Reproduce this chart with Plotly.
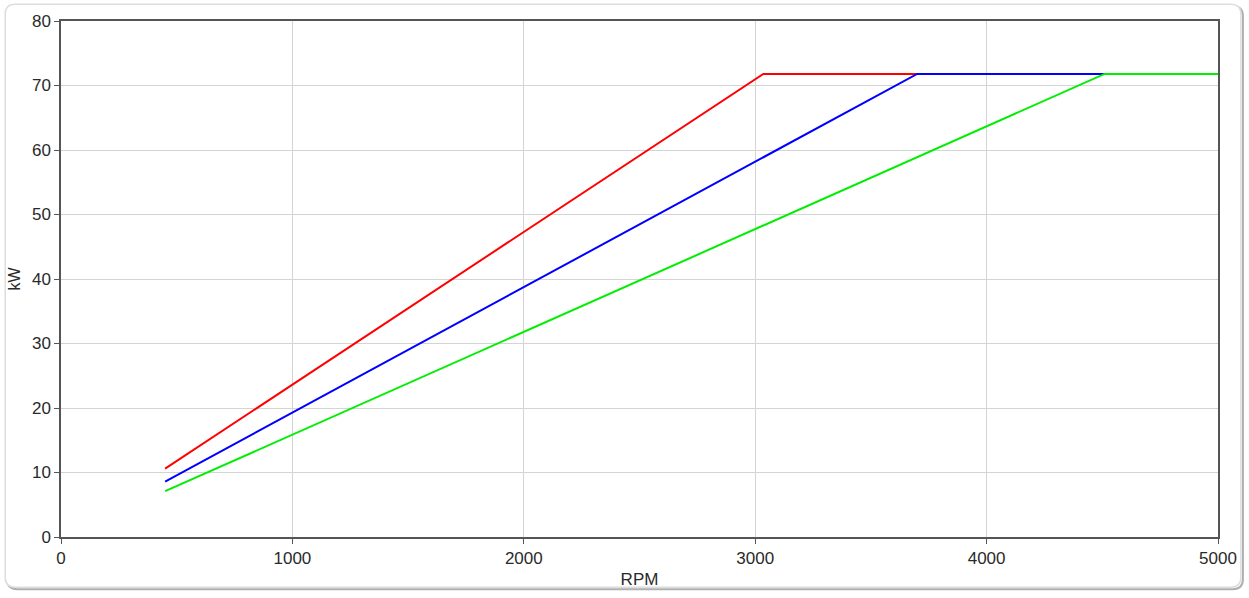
import plotly.graph_objects as go

# Data
red_rpm = [450, 3035, 5000]
red_kw = [10.6, 71.8, 71.8]
blue_rpm = [450, 3700, 5000]
blue_kw = [8.6, 71.8, 71.8]
green_rpm = [450, 4510, 5000]
green_kw = [7.1, 71.8, 71.8]

x_ticks = [0, 1000, 2000, 3000, 4000, 5000]
y_ticks = [0, 10, 20, 30, 40, 50, 60, 70, 80]

W, H = 1249, 598
L, R, T, B = 61, 1222, 19, 543

fig = go.Figure()
for xs, ys, c in [(red_rpm, red_kw, "#ff0000"), (blue_rpm, blue_kw, "#0000ff"), (green_rpm, green_kw, "#00ee00")]:
    fig.add_trace(go.Scatter(x=xs, y=ys, mode="lines", line=dict(color=c, width=2), showlegend=False, hoverinfo="x+y"))

def px(xp):
    return (xp - L) / (R - L)

def py(yp):
    return (B - yp) / (B - T)

def rounded(x0, y0, x1, y1, r):
    pts = [
        f"M {px(x0 + r)},{py(y0)}",
        f"L {px(x1 - r)},{py(y0)}",
        f"Q {px(x1)},{py(y0)} {px(x1)},{py(y0 + r)}",
        f"L {px(x1)},{py(y1 - r)}",
        f"Q {px(x1)},{py(y1)} {px(x1 - r)},{py(y1)}",
        f"L {px(x0 + r)},{py(y1)}",
        f"Q {px(x0)},{py(y1)} {px(x0)},{py(y1 - r)}",
        f"L {px(x0)},{py(y0 + r)}",
        f"Q {px(x0)},{py(y0)} {px(x0 + r)},{py(y0)}",
        "Z",
    ]
    return " ".join(pts)

shapes = [
    dict(type="path", xref="paper", yref="paper", path=rounded(7, 4, 1247, 596, 10),
         line=dict(color="#b0b0b0", width=2), layer="below"),
    dict(type="path", xref="paper", yref="paper", path=rounded(5, 2, 1245, 594, 10),
         line=dict(color="#dddddd", width=1.5), fillcolor="white", layer="below"),
]

FONT = "Liberation Sans, Arial, sans-serif"
axis_common = dict(
    showgrid=True, gridcolor="#d4d4d4", gridwidth=1,
    showline=True, linecolor="#555555", linewidth=1.5, mirror=True,
    ticks="outside", ticklen=5, tickcolor="#555555",
    tickfont=dict(family=FONT, size=17, color="#2a2a2a"),
    zeroline=False,
)

fig.update_layout(
    width=W, height=H, autosize=False,
    margin=dict(l=L, r=W - R, t=T, b=H - B),
    paper_bgcolor="white", plot_bgcolor="white",
    shapes=shapes,
    xaxis=dict(range=[0, 5000], tickvals=x_ticks, title=dict(text="RPM", standoff=6,
               font=dict(family=FONT, size=17, color="#2a2a2a")), **axis_common),
    yaxis=dict(range=[0, 80], tickvals=y_ticks, title=dict(text="kW", standoff=7,
               font=dict(family=FONT, size=16, color="#2a2a2a")), **axis_common),
)

fig.write_html("out.html", config={"displayModeBar": False, "responsive": False},
               post_script="document.body.style.margin='0';")
